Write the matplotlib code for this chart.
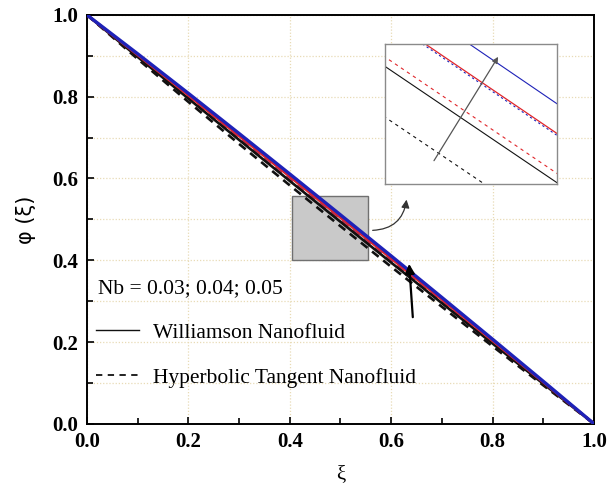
import matplotlib
matplotlib.use("Agg")
import matplotlib.pyplot as plt
from matplotlib.lines import Line2D
from matplotlib.patches import Rectangle, FancyArrowPatch

# Similarity variable and concentration profiles phi(xi)
xi = [0.0, 0.1, 0.2, 0.3, 0.4, 0.5, 0.6, 0.7, 0.8, 0.9, 1.0]

# Williamson nanofluid (solid), Nb = 0.03, 0.04, 0.05
phi_w_003 = [1.0, 0.8973, 0.7955, 0.6945, 0.5940, 0.4940, 0.3943, 0.2951, 0.1963, 0.0979, 0.0]
phi_w_004 = [1.0, 0.9021, 0.8035, 0.7042, 0.6046, 0.5046, 0.4044, 0.3038, 0.2029, 0.1016, 0.0]
phi_w_005 = [1.0, 0.9050, 0.8083, 0.7101, 0.6110, 0.5110, 0.4105, 0.3090, 0.2068, 0.1039, 0.0]

# Hyperbolic tangent nanofluid (dashed), Nb = 0.03, 0.04, 0.05
phi_h_003 = [1.0, 0.8924, 0.7874, 0.6845, 0.5832, 0.4832, 0.3840, 0.2862, 0.1896, 0.0941, 0.0]
phi_h_004 = [1.0, 0.8982, 0.7970, 0.6963, 0.5960, 0.4960, 0.3962, 0.2967, 0.1975, 0.0986, 0.0]
phi_h_005 = [1.0, 0.9019, 0.8032, 0.7039, 0.6042, 0.5042, 0.4040, 0.3034, 0.2026, 0.1015, 0.0]

nb_label = "Nb = 0.03; 0.04; 0.05"
legend_labels = ["Williamson Nanofluid", "Hyperbolic Tangent Nanofluid"]

BLACK, RED, BLUE = "#111111", "#e0252a", "#1e22b8"
SERIF = ["Liberation Serif", "DejaVu Serif"]

fig = plt.figure(figsize=(6.08, 4.98), dpi=100)
ax = fig.add_axes([0.143, 0.149, 0.834, 0.821])

# Highlighted region marker
ax.add_patch(Rectangle((0.404, 0.401), 0.151, 0.156, facecolor="#c9c9c9",
                       edgecolor="#707070", lw=1.0, zorder=1.5))

dash_main = (3.2, 2.2)
ax.plot(xi, phi_h_003, color=BLACK, lw=1.9, dashes=dash_main, zorder=3)
ax.plot(xi, phi_h_004, color=RED, lw=1.9, dashes=dash_main, zorder=3)
ax.plot(xi, phi_h_005, color=BLUE, lw=1.9, dashes=dash_main, zorder=3)
ax.plot(xi, phi_w_003, color=BLACK, lw=1.9, zorder=3)
ax.plot(xi, phi_w_004, color=RED, lw=1.9, zorder=3)
ax.plot(xi, phi_w_005, color=BLUE, lw=2.4, zorder=3)

ax.set_xlim(0, 1)
ax.set_ylim(0, 1)
ax.set_xticks([0.0, 0.2, 0.4, 0.6, 0.8, 1.0])
ax.set_yticks([0.0, 0.2, 0.4, 0.6, 0.8, 1.0])
ax.set_xticks([0.1, 0.3, 0.5, 0.7, 0.9], minor=True)
ax.set_yticks([0.1, 0.3, 0.5, 0.7, 0.9], minor=True)
ax.set_xticklabels([f"{v:.1f}" for v in ax.get_xticks()])
ax.set_yticklabels([f"{v:.1f}" for v in ax.get_yticks()])
for lab in ax.get_xticklabels() + ax.get_yticklabels():
    lab.set_fontfamily(SERIF)
    lab.set_fontweight("bold")
    lab.set_fontsize(15)
ax.tick_params(which="major", direction="in", length=5, width=1.2, pad=6)
ax.tick_params(which="minor", direction="in", length=4, width=1.2)

grid_kw = dict(color="#e8dbb6", lw=0.9, ls=(0, (1, 1.5)), zorder=0)
ax.grid(True, which="major", axis="x", **grid_kw)
ax.grid(True, which="both", axis="y", **grid_kw)
ax.set_axisbelow(True)
for s in ax.spines.values():
    s.set_linewidth(1.4)

ax.set_xlabel("ξ", fontsize=15, family=SERIF, labelpad=9)
ax.set_ylabel("φ (ξ)", fontsize=15, family="DejaVu Sans", labelpad=12)

ax.text(0.022, 0.33, nb_label, fontsize=15.5, family=SERIF, va="center", ha="left")

handles = [Line2D([], [], color=BLACK, lw=1.0),
           Line2D([], [], color=BLACK, lw=1.3, dashes=(3.5, 3.0))]
leg = ax.legend(handles, legend_labels, loc="center left",
                bbox_to_anchor=(0.018, 0.168), frameon=False,
                prop={"family": SERIF, "size": 15.5}, handlelength=2.0,
                handletextpad=0.65, labelspacing=1.15, borderpad=0, borderaxespad=0)

# Arrow showing increase of Nb
ax.annotate("", xy=(0.635, 0.398), xytext=(0.643, 0.254),
            arrowprops=dict(arrowstyle="-|>", color="black", lw=1.6,
                            mutation_scale=14), zorder=5)

# Curved pointer from marked region to the magnified view
ax.add_patch(FancyArrowPatch((0.558, 0.473), (0.631, 0.555),
                             connectionstyle="arc3,rad=0.45", arrowstyle="-|>",
                             mutation_scale=12, color="#333333", lw=0.9, zorder=5))

# Magnified view
ins = fig.add_axes([0.633, 0.631, 0.283, 0.281])
dash_ins = (3.0, 3.5)
ins.plot(xi, phi_h_003, color=BLACK, lw=0.8, dashes=dash_ins)
ins.plot(xi, phi_h_004, color=RED, lw=0.8, dashes=dash_ins)
ins.plot(xi, phi_h_005, color=BLUE, lw=0.8, dashes=(2.0, 2.5))
ins.plot(xi, phi_w_003, color=BLACK, lw=0.8)
ins.plot(xi, phi_w_004, color=RED, lw=0.9)
ins.plot(xi, phi_w_005, color=BLUE, lw=0.8)
ins.set_xlim(0.52, 0.5446)
ins.set_ylim(0.4493, 0.4788)
ins.set_xticks([])
ins.set_yticks([])
for s in ins.spines.values():
    s.set_color("#8a8a8a")
    s.set_linewidth(1.0)
ins.annotate("", xy=(0.667, 0.924), xytext=(0.277, 0.148),
             xycoords="axes fraction", textcoords="axes fraction",
             arrowprops=dict(arrowstyle="-|>", color="#555555", lw=0.9,
                             mutation_scale=9))

fig.savefig("out.png", dpi=100)
